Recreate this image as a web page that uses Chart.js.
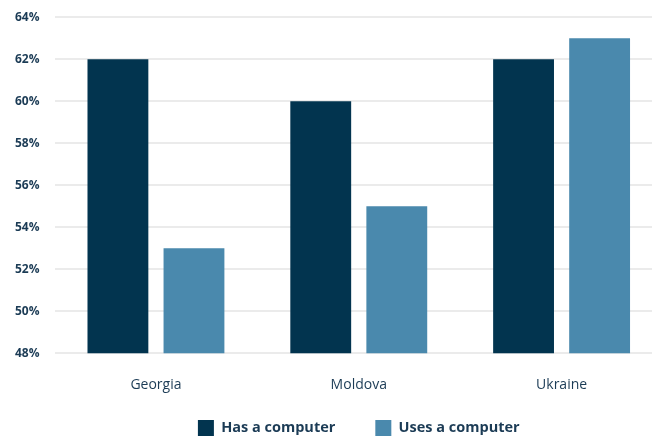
<!DOCTYPE html>
<html>
<head>
<meta charset="utf-8">
<script src="https://cdn.jsdelivr.net/npm/chart.js@4"></script>
<style>
  html, body { margin: 0; padding: 0; background: #fff; }
  #wrap { width: 652px; height: 437px; position: relative; }
</style>
</head>
<body>
<div id="wrap"><canvas id="chart"></canvas></div>
<script>
// Computer ownership vs use, by country
const countries = ['Georgia', 'Moldova', 'Ukraine'];
const hasComputer = [62, 60, 62];
const usesComputer = [53, 55, 63];
const yTicks = [48, 50, 52, 54, 56, 58, 60, 62, 64];

const textColor = '#1b3b55';
const fontFamily = '"Open Sans", "Liberation Sans", sans-serif';

// layout tweaks: short legend box with wide item spacing,
// plot running a bit past the right edge, legend centred under the plot
const layoutTweaks = {
    id: 'layoutTweaks',
    beforeInit(chart) {
        const legend = chart.legend;
        const origFit = legend.fit;
        legend.fit = function () {
            origFit.call(this);
            this.height = 29;
        };
    },
    afterLayout(chart) {
        const sx = chart.scales.x;
        const sy = chart.scales.y;
        sx.right += 11;
        sx.width += 11;
        sx.configure();
        sy.top -= 5;
        sy.height += 5;
        sy.configure();
        sx._labelItems = null;
        sy._labelItems = null;
        sy._gridLineItems = null;
        chart.chartArea.top -= 5;
        chart.chartArea.height += 5;

        const legend = chart.legend;
        legend.top -= 28;
        legend.height += 28;
        legend.left = sx.left;
        legend.right = sx.right;
        legend.width = sx.right - sx.left;
    }
};

new Chart(document.getElementById('chart').getContext('2d'), {
    type: 'bar',
    data: {
        labels: countries,
        datasets: [
            {
                label: 'Has a computer',
                data: hasComputer,
                backgroundColor: '#02344f',
                categoryPercentage: 0.75,
                barPercentage: 0.8
            },
            {
                label: 'Uses a computer',
                data: usesComputer,
                backgroundColor: '#4a89ad',
                categoryPercentage: 0.75,
                barPercentage: 0.8
            }
        ]
    },
    options: {
        responsive: true,
        maintainAspectRatio: false,
        animation: false,
        layout: { padding: 0 },
        plugins: {
            tooltip: { enabled: false },
            legend: {
                position: 'bottom',
                labels: {
                    color: textColor,
                    font: { family: fontFamily, size: 14.5, weight: 'bold' },
                    boxWidth: 16,
                    boxHeight: 16,
                    padding: 40
                }
            }
        },
        scales: {
            x: {
                grid: { display: false },
                border: { display: false },
                ticks: {
                    color: textColor,
                    padding: 15,
                    font: { family: fontFamily, size: 14 }
                }
            },
            y: {
                min: 48,
                max: 64,
                afterBuildTicks: axis => { axis.ticks = yTicks.map(v => ({ value: v })); },
                grid: { color: '#ebebeb', lineWidth: 2, drawTicks: false },
                border: { display: false },
                ticks: {
                    color: textColor,
                    padding: 15,
                    font: { family: fontFamily, size: 12, weight: 'bold' },
                    callback: v => v + '%'
                }
            }
        }
    },
    plugins: [layoutTweaks]
});
</script>
</body>
</html>
